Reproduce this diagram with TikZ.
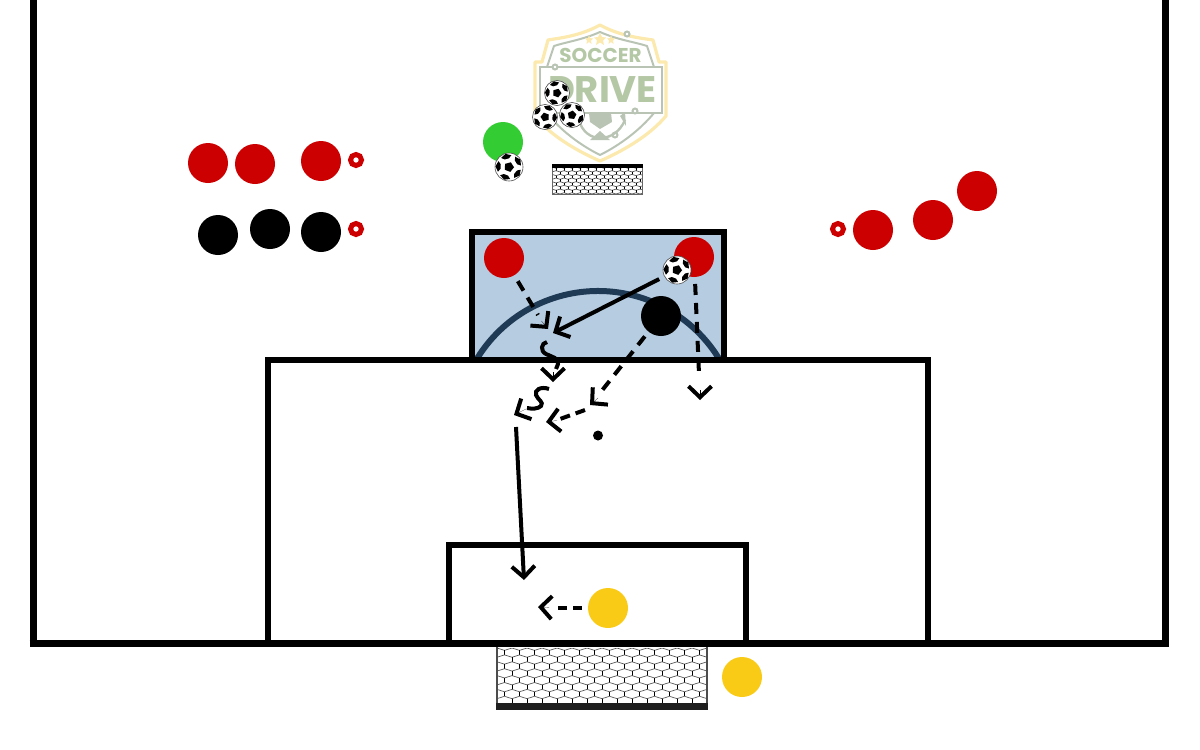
\documentclass[tikz,border=0pt]{standalone}
\usepackage{fontspec}
\setmainfont{Lato}
\newfontfamily\logofont{Poppins}
\usetikzlibrary{arrows.meta}
\definecolor{rd}{HTML}{CC0000}
\definecolor{yl}{HTML}{F9CB17}
\definecolor{gn}{HTML}{33CC33}
\definecolor{bluebox}{HTML}{B6CCE1}
\definecolor{arcc}{HTML}{1F3A54}
\definecolor{logoY}{HTML}{FBE9AE}
\definecolor{logoG}{HTML}{B9C4B4}
\definecolor{logoT}{HTML}{B5C8A6}
\tikzset{
 x=0.5pt,y=-0.5pt,
 player/.style={circle,minimum size=20pt,inner sep=0pt,outer sep=0pt},
 redp/.style={player,fill=rd},
 blackp/.style={player,fill=black},
 yellowp/.style={player,fill=yl},
 greenp/.style={player,fill=gn},
 ringn/.style={circle,minimum size=5.5pt,inner sep=0pt,draw=rd,line width=2.5pt,fill=white},
 mv/.style={line width=2pt,-{Straight Barb[length=5.5pt,width=11.5pt,line width=2pt]}},
 dmv/.style={line width=2pt,dash pattern=on 5.5pt off 4pt},
 tiponly/.style={line width=0.1pt,-{Straight Barb[length=5.5pt,width=11.5pt,line width=2pt]}},
 frame/.style={line width=3.5pt,miter limit=10},
 ballnode/.style={circle,fill=white,draw=black!70,line width=0.3pt,inner sep=0pt,outer sep=0pt},
}
\newcommand{\ballmarks}[3]{%
 \begin{scope}[shift={(#1,#2)},rotate=#3]
  \fill[black] (90:0.36*\br) -- (162:0.36*\br) -- (234:0.36*\br) -- (306:0.36*\br) -- (18:0.36*\br) -- cycle;
  \foreach \a in {54,126,198,270,342}{
   \fill[black] ([shift={(\a:0.97*\br)}]0,0) -- ([shift={(\a+26:0.86*\br)}]0,0) -- ([shift={(\a+15:0.62*\br)}]0,0) -- ([shift={(\a-15:0.62*\br)}]0,0) -- ([shift={(\a-26:0.86*\br)}]0,0) -- cycle;
  }
 \end{scope}}
\newcommand{\hexnet}[6]{% x0 y0 x1 y1 period-row colour
 \begin{scope}
  \clip (#1,#2) rectangle (#3,#4);
  \pgfmathsetmacro{\hp}{#5}
  \pgfmathsetmacro{\vs}{#5*0.46}
  \pgfmathtruncatemacro{\nr}{(#4-#2)/\vs+1}
  \pgfmathtruncatemacro{\nc}{(#3-#1)/(\hp/2)+2}
  \foreach \j in {0,...,\nr}{
   \foreach \k in {0,...,\nc}{
    \pgfmathsetmacro{\xa}{#1+\k*\hp/2}
    \pgfmathsetmacro{\xb}{#1+(\k+1)*\hp/2}
    \pgfmathsetmacro{\ya}{#2+\j*\vs+mod(\k+\j,2)*\vs*0.34}
    \pgfmathsetmacro{\yb}{#2+\j*\vs+mod(\k+\j+1,2)*\vs*0.34}
    \draw[#6,line width=0.35pt] (\xa,\ya) -- (\xb,\yb);
    \pgfmathtruncatemacro{\m}{mod(\k+\j,2)}
    \ifnum\m=1
     \draw[black,line width=0.35pt] (\xa,\ya) -- (\xa,#2+\j*\vs+\vs);
    \fi
   }
  }
 \end{scope}}
\begin{document}
\begin{tikzpicture}
\useasboundingbox (0,0) rectangle (1200,750);
% logo
\draw[logoY,line width=1.6pt,line join=round] (600,25) .. controls (620,36) and (640,38) .. (653,40) -- (659,62) -- (666,62) -- (666,116) .. controls (650,135) and (625,150) .. (600,161) .. controls (575,150) and (550,135) .. (535,116) -- (535,62) -- (542,62) -- (548,40) .. controls (560,38) and (580,36) .. (600,25) -- cycle;
\draw[logoG,line width=1pt,line join=round] (600,32) .. controls (618,40) and (635,42) .. (647,46) -- (654,67) -- (654,113) .. controls (640,130) and (620,145) .. (600,155) .. controls (580,145) and (560,130) .. (547,113) -- (547,67) -- (554,46) .. controls (566,42) and (582,40) .. (600,32) -- cycle;
\fill[white] (540,68) rectangle (662,112);
\draw[logoG,line width=1pt] (555,67) -- (662,67) -- (662,113) -- (635,113);
\draw[logoG,line width=1pt] (555,67) -- (540,67) -- (540,113) -- (635,113);
\draw[logoG,line width=1pt,fill=white] (555,67) circle (2.5);
\draw[logoG,line width=1pt,fill=white] (635,111) circle (2.5);
\draw[logoG,line width=1pt,fill=white] (627,34) circle (2.5);
\draw[logoG,line width=1pt,fill=white] (615,135) circle (2.5);
\draw[logoG,line width=1.2pt] (579,120) .. controls (585,144) and (615,144) .. (625,120);
\fill[logoG] (589,113) -- (611,113) -- (612,122) -- (600,129) -- (590,122) -- cycle;
\fill[logoG] (620,116) -- (625,112) -- (626,126) -- cycle;
\fill[logoG] (590,140) -- (610,140) -- (600,131) -- cycle;
\path[fill=logoY] (600,33) -- (602,37) -- (606,37.5) -- (603,40.5) -- (604,45) -- (600,42.5) -- (596,45) -- (597,40.5) -- (594,37.5) -- (598,37) -- cycle;
\path[fill=logoY] (589,35) -- (590,38) -- (593,38.5) -- (591,40.5) -- (591.5,44) -- (589,42) -- (586.5,44) -- (587,40.5) -- (585,38.5) -- (588,38) -- cycle;
\path[fill=logoY] (611,35) -- (612,38) -- (615,38.5) -- (613,40.5) -- (613.5,44) -- (611,42) -- (608.5,44) -- (609,40.5) -- (607,38.5) -- (610,38) -- cycle;
\node[logoT,inner sep=0pt,font=\logofont\bfseries\fontsize{10}{10}\selectfont] (soccer) at (600.5,55.5) {SOCCER};
\node[logoT,inner sep=0pt,font=\logofont\bfseries\fontsize{18.5}{18.5}\selectfont] (drive) at (602.5,90) {DRIVE};

% pitch
\draw[frame] (33,0) -- (33,643);
\draw[frame] (1165,0) -- (1165,643);
\draw[line width=3pt] (268,643) -- (268,360) -- (928,360) -- (928,643);
\draw[line width=3pt] (449,643) -- (449,545) -- (746,545) -- (746,643);
\draw[frame] (29.5,643) -- (1168.5,643);
% blue box
\fill[bluebox] (472,232) rectangle (724,360);
\draw[arcc,line width=3pt] (598,433) ++(210.9:142) arc[start angle=210.9,end angle=329.1,radius=142];
\draw[line width=3.2pt,line join=miter] (472,360) -- (472,232) -- (724,232) -- (724,360);
\draw[line width=3pt] (469,360) -- (727,360);

% small goal
\fill[white] (552,166) rectangle (642,195);
\hexnet{552}{167}{642}{194}{8}{black!65}
\draw[black!60,line width=0.5pt] (552,194.5) -- (642,194.5) (552,166) -- (552,194.5) (642,166) -- (642,194.5);
\fill[black] (552,164) rectangle (643,167.5);

% big goal
\hexnet{497}{648}{707}{704}{15}{black!65}
\draw[black!70,line width=0.6pt] (497,647) -- (497,709) (707,647) -- (707,709);
\fill[black!88] (496,703) rectangle (708,709.5);

% players
\foreach \n/\xx/\yy in {ra/208/163,rb/255/164,rc/321/161,re/873/230,rf/933/220,rg/977/191,rh/504/258,ri/694/257}
 \node[redp] (\n) at (\xx,\yy) {};
\foreach \n/\xx/\yy in {ka/218/235,kb/270/229,kc/321/232,kd/661/316}
 \node[blackp] (\n) at (\xx,\yy) {};
\node[ringn] (r1) at (356,160) {};
\node[ringn] (r2) at (356,229) {};
\node[ringn] (r3) at (838,229) {};
\node[greenp] (gk) at (503,142) {};
\node[yellowp] (ya) at (608,608) {};
\node[yellowp] (yb) at (742,677) {};

% balls
\def\br{14}
\node[ballnode,minimum size=14pt] (b1) at (509,167) {}; \ballmarks{509}{167}{15}
\node[ballnode,minimum size=14pt] (b2) at (677,270) {}; \ballmarks{677}{270}{15}
\def\br{12.5}
\node[ballnode,minimum size=12.5pt] (b3) at (557,93) {}; \ballmarks{557}{93}{15}
\node[ballnode,minimum size=12.5pt] (b4) at (545,117) {}; \ballmarks{545}{117}{195}
\node[ballnode,minimum size=12.5pt] (b5) at (572,115) {}; \ballmarks{572}{115}{100}

\node[circle,fill=black,minimum size=5pt,inner sep=0pt] (dot) at (598,435.5) {};

% movement
\coordinate (e1) at (538,315);
\coordinate (t1a) at (541.5,321);
\coordinate (t1) at (548,329);
\coordinate (t2) at (553,333);
\coordinate (s1a) at (547,342);
\coordinate (s1b) at (556,369);
\coordinate (t3a) at (553,372);
\coordinate (t3) at (553,382);
\coordinate (s2a) at (549,389);
\coordinate (s2b) at (527,408);
\coordinate (t4a) at (526,409);
\coordinate (t4) at (514,415);
\coordinate (s5) at (516,427);
\coordinate (t5) at (524,580);
\coordinate (e6) at (600,393);
\coordinate (t6a) at (598,398);
\coordinate (t6) at (590,405);
\coordinate (s7) at (585,410);
\coordinate (t7a) at (557,420.5);
\coordinate (t7) at (546,422);
\coordinate (s7b) at (560,419);
\coordinate (e8) at (699,374);
\coordinate (t8a) at (700,390);
\coordinate (t8) at (700,400);
\coordinate (e9) at (557,608);
\coordinate (t9a) at (549,607.5);
\coordinate (t9) at (538,607);

\draw[dmv,shorten <=3.5pt] (rh) -- (e1);
\draw[tiponly] (t1a) -- (t1);
\draw[mv,shorten <=3pt] (b2) -- (t2);
\draw[line width=2pt] (s1a) .. controls (541,343) and (540,351) .. (546,354) .. controls (552,357) and (559,358) .. (558,364) -- (s1b);
\draw[tiponly] (t3a) -- (t3);
\draw[line width=2pt] (s2a) .. controls (541,386) and (534,390) .. (536,395) .. controls (538,400) and (544,402) .. (541,406) .. controls (538,409) and (532,409) .. (s2b);
\draw[tiponly] (t4a) -- (t4);
\draw[mv] (s5) -- (t5);
\draw[dmv,shorten <=3pt] (kd) -- (e6);
\draw[tiponly] (t6a) -- (t6);
\draw[line width=2pt,dash pattern=on 5pt off 3pt] (s7) -- (s7b);
\draw[tiponly] (t7a) -- (t7);
\draw[dmv,shorten <=3.5pt] (ri) -- (e8);
\draw[tiponly] (t8a) -- (t8);
\draw[line width=2pt,shorten <=3pt,dash pattern=on 4.5pt off 3pt] (ya) -- (e9);
\draw[tiponly] (t9a) -- (t9);
\end{tikzpicture}
\end{document}
